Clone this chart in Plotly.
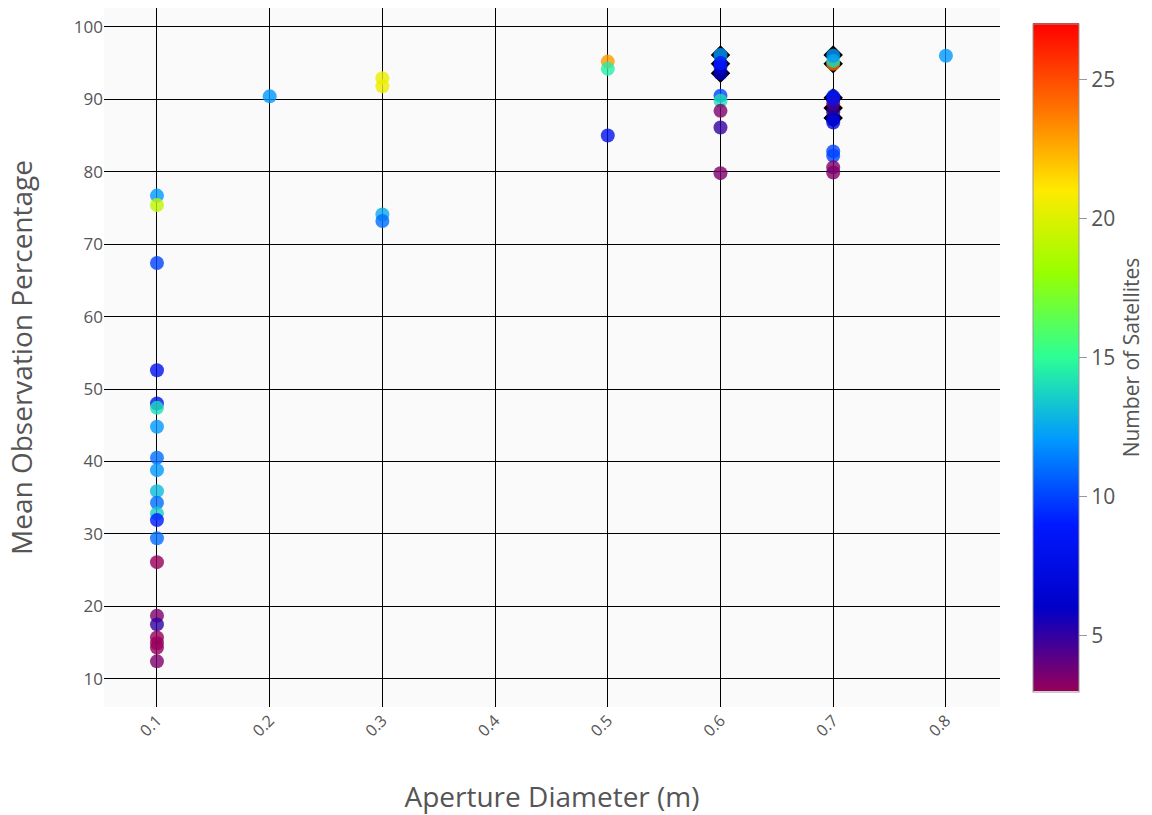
import plotly.graph_objects as go

# ---- data ----
aperture = [
    0.1, 0.1, 0.1, 0.1, 0.1, 0.1, 0.1, 0.1, 0.1, 0.1, 0.1, 0.1, 0.1, 0.1, 0.1, 0.1, 0.1, 0.1, 0.1, 0.1, 0.1,
    0.2,
    0.3, 0.3, 0.3, 0.3,
    0.5, 0.5, 0.5,
    0.6, 0.6, 0.6, 0.6, 0.6, 0.6, 0.6, 0.6, 0.6,
    0.7, 0.7, 0.7, 0.7, 0.7, 0.7, 0.7, 0.7, 0.7, 0.7, 0.7, 0.7, 0.7,
    0.8,
]
observation = [
    76.7, 75.4, 67.4, 52.6, 48.0, 47.4, 44.8, 40.5, 38.8, 35.9, 34.3, 32.8, 31.9, 29.4, 26.1, 18.7, 17.5, 15.7, 14.9, 14.3, 12.4,
    90.4,
    92.9, 91.8, 74.1, 73.2,
    95.2, 94.2, 85.0,
    96.1, 94.5, 93.6, 90.5, 89.8, 88.4, 86.1, 79.8, 95.0,
    94.9, 95.3, 96.0, 90.4, 89.4, 88.2, 87.2, 86.8, 82.8, 82.2, 80.6, 79.9, 90.0,
    96.0,
]
satellites = [
    12, 19, 10, 8, 8, 14, 12, 11, 12, 13, 11, 13.5, 9, 11, 3, 3.5, 5, 3, 3, 3, 3.5,
    12,
    20.5, 20.5, 12.5, 11,
    23, 14.5, 8,
    12, 7, 6, 10, 14, 3.5, 5, 3.5, 9,
    24, 14, 12, 9, 3.5, 5, 6, 7, 10, 10, 3.5, 3.5, 8,
    12,
]

# highlighted (black) designs
hl_aperture = [0.6, 0.6, 0.6, 0.7, 0.7, 0.7, 0.7, 0.7]
hl_observation = [96.1, 94.9, 93.6, 96.1, 94.9, 90.2, 88.8, 87.4]

rainbow = [
    [0.0, "rgb(150,0,90)"], [0.125, "rgb(0,0,200)"], [0.25, "rgb(0,25,255)"],
    [0.375, "rgb(0,152,255)"], [0.5, "rgb(44,255,150)"], [0.625, "rgb(151,255,0)"],
    [0.75, "rgb(255,234,0)"], [0.875, "rgb(255,111,0)"], [1.0, "rgb(255,0,0)"],
]

fig = go.Figure()
fig.add_trace(go.Scatter(
    x=hl_aperture, y=hl_observation, mode="markers",
    marker=dict(symbol="diamond", size=15, color="black"),
    showlegend=False, hoverinfo="skip",
))
fig.add_trace(go.Scatter(
    x=aperture, y=observation, mode="markers",
    marker=dict(
        size=14, color=satellites, colorscale=rainbow, cmin=3, cmax=27, opacity=0.8,
        colorbar=dict(
            title=dict(text="Number of Satellites", side="right", font=dict(size=21)),
            tickfont=dict(size=21), thickness=46, len=0.955, ypad=0, y=0.5,
            x=1.037, xpad=0,
            outlinecolor="#999", outlinewidth=1, tickvals=[5, 10, 15, 20, 25],
            ticks="outside", ticklen=8, tickcolor="#999",
        ),
    ),
    showlegend=False,
))

fig.update_layout(
    width=1152, height=815,
    margin=dict(l=104, r=152, t=8, b=108, autoexpand=False),
    paper_bgcolor="white", plot_bgcolor="#fafafa",
    font=dict(family="Open Sans", color="#555"),
    xaxis=dict(
        title=dict(text="Aperture Diameter (m)", font=dict(size=28), standoff=48),
        range=[0.053, 0.848], tickvals=[0.1, 0.2, 0.3, 0.4, 0.5, 0.6, 0.7, 0.8],
        tickangle=-45, tickfont=dict(size=16), gridcolor="black", gridwidth=1,
        zeroline=False, showline=False,
    ),
    yaxis=dict(
        title=dict(text="Mean Observation Percentage", font=dict(size=28), standoff=33),
        range=[6.1, 102.6], tickvals=[10, 20, 30, 40, 50, 60, 70, 80, 90, 100],
        tickfont=dict(size=17), gridcolor="black", gridwidth=1,
        zeroline=False, showline=False,
    ),
)

fig.write_html("out.html")
